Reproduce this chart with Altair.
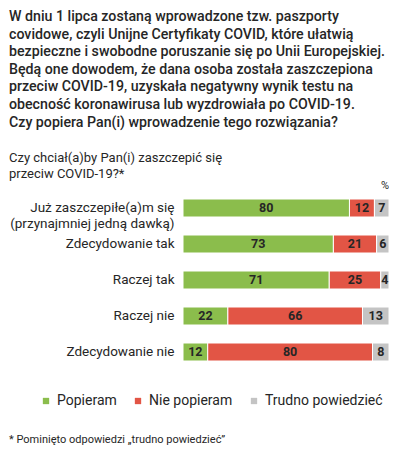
import altair as alt
import pandas as pd

title_lines = [
    "W dniu 1 lipca zostaną wprowadzone tzw. paszporty",
    "covidowe, czyli Unijne Certyfikaty COVID, które ułatwią",
    "bezpieczne i swobodne poruszanie się po Unii Europejskiej.",
    "Będą one dowodem, że dana osoba została zaszczepiona",
    "przeciw COVID-19, uzyskała negatywny wynik testu na",
    "obecność koronawirusa lub wyzdrowiała po COVID-19.",
    "Czy popiera Pan(i) wprowadzenie tego rozwiązania?",
]
subtitle_lines = ["Czy chciał(a)by Pan(i) zaszczepić się", "przeciw COVID-19?*"]
footnote = "* Pominięto odpowiedzi „trudno powiedzieć”"
unit = "%"

categories = [
    "Już zaszczepiłe(a)m się|(przynajmniej jedną dawką)",
    "Zdecydowanie tak",
    "Raczej tak",
    "Raczej nie",
    "Zdecydowanie nie",
]
series = ["Popieram", "Nie popieram", "Trudno powiedzieć"]
popieram = [80, 73, 71, 22, 12]
nie_popieram = [12, 21, 25, 66, 80]
trudno = [7, 6, 4, 13, 8]
colors = ["#8bbd4c", "#e25545", "#c4c4c4"]

rows = []
for ci, c in enumerate(categories):
    for si, (s, vals) in enumerate(zip(series, [popieram, nie_popieram, trudno])):
        rows.append({"cat": c, "series": s, "idx": si, "value": vals[ci]})
df = pd.DataFrame(rows)

FONT = "Roboto"
TXT = "#262626"

base = (
    alt.Chart(df)
    .transform_joinaggregate(total="sum(value)", groupby=["cat"])
    .transform_calculate(pct="datum.value / datum.total")
    .transform_stack(stack="pct", as_=["p0", "p1"], groupby=["cat"],
                     sort=[alt.SortField("idx", order="ascending")])
    .transform_calculate(mid="(datum.p0 + datum.p1) / 2")
)

yenc = alt.Y(
    "cat:N", sort=categories, title=None,
    scale=alt.Scale(paddingInner=0.5, paddingOuter=0.25),
    axis=alt.Axis(domain=False, ticks=False, labelPadding=9, labelFontSize=13.5,
                  labelFont=FONT, labelColor=TXT, labelLimit=300,
                  labelLineHeight=16,
                  labelExpr="split(datum.label, '|')"),
)
xscale = alt.Scale(domain=[0, 1], nice=False, zero=True)

bars = base.mark_bar(stroke="white", strokeWidth=1).encode(
    x=alt.X("p0:Q", scale=xscale, axis=None),
    x2="p1:Q",
    y=yenc,
    color=alt.Color(
        "series:N",
        scale=alt.Scale(domain=series, range=colors),
        legend=alt.Legend(
            title=None, orient="none", direction="horizontal",
            legendX=-144, legendY=204, symbolType="square", symbolSize=40,
            symbolStrokeWidth=0, labelFontSize=14, labelFont=FONT,
            labelColor=TXT, columnPadding=14, labelOffset=4, labelLimit=250,
        ),
    ),
)

labels = base.mark_text(font=FONT, fontWeight="bold", fontSize=12.5,
                        color=TXT, baseline="middle").encode(
    x=alt.X("mid:Q", scale=xscale, axis=None),
    y=alt.Y("cat:N", sort=categories),
    text="value:Q",
)

def text_layer(lines, x, y, size, weight="normal", line_height=None):
    d = pd.DataFrame({"t": ["\n".join(lines)]})
    kw = dict(font=FONT, fontSize=size, fontWeight=weight, color=TXT,
              align="left", baseline="alphabetic", lineBreak="\n")
    if line_height:
        kw["lineHeight"] = line_height
    return alt.Chart(d).mark_text(**kw).encode(
        x=alt.value(x), y=alt.value(y), text="t:N")

title = text_layer(title_lines, -174, -169, 14.2, 500, 17.6)
subtitle = text_layer(subtitle_lines, -174, -28, 13, "normal", 16)
pct = text_layer([unit], 198, -1, 11)
foot = text_layer([footnote], -174, 253, 11)

chart = (
    alt.layer(bars, labels, title, subtitle, pct, foot)
    .properties(
        width=206, height=180,
        padding={"left": 175, "top": 182, "right": 0, "bottom": 76},
        autosize=alt.AutoSizeParams(type="none"),
        background="white",
    )
    .configure_view(stroke=None)
)

chart.save("out.html", embed_options={"renderer": "svg", "actions": False})
